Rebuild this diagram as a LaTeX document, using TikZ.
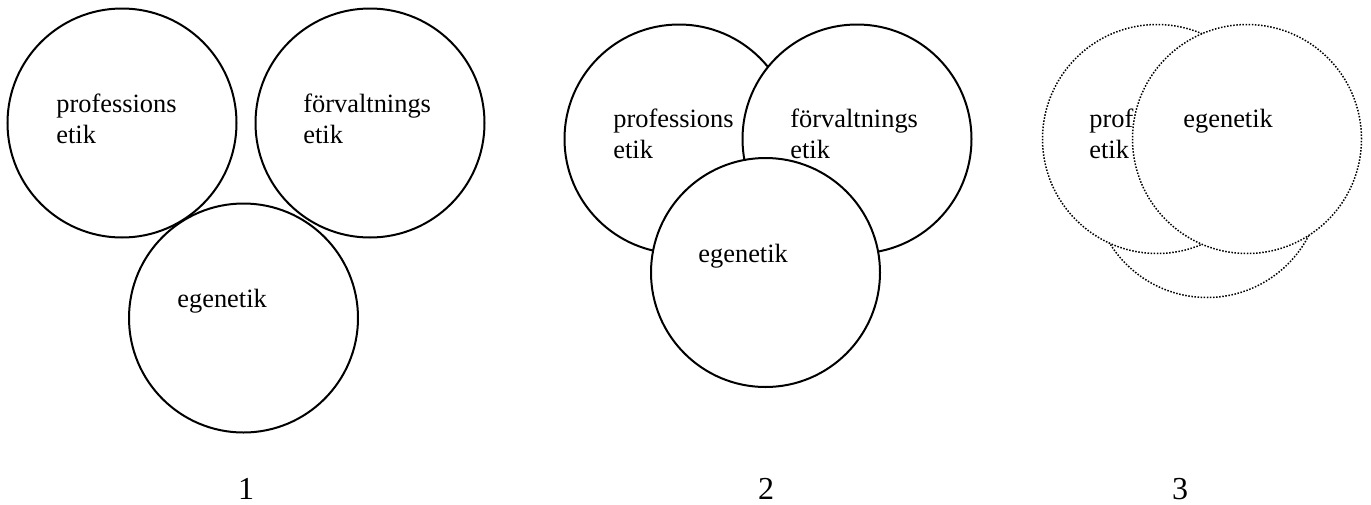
\documentclass[tikz,border=0pt]{standalone}
\usepackage{fontspec}
\setmainfont{Liberation Serif}
\usepackage{tikz}

\tikzset{
  ring/.style={circle, draw, fill=white, line width=1pt, minimum size=114.5pt, inner sep=0pt},
  dotring/.style={ring, line width=0.75pt, dash pattern=on 0.75pt off 0.8pt},
  lbl/.style={anchor=base west, align=left, inner sep=0pt, font=\fontsize{13.2}{15.5}\selectfont},
  num/.style={anchor=base, inner sep=0pt, font=\fontsize{16}{18}\selectfont}
}

\begin{document}
\begin{tikzpicture}[x=0.5pt, y=-0.5pt]
    \useasboundingbox (0,0) rectangle (1371,504);

    % 1: apart
    \node[ring] (p1) at (122,123) {};
    \node[lbl] (tp1) at (56,143) {professions\\etik};
    \node[ring] (f1) at (370,123) {};
    \node[lbl] (tf1) at (303,143) {förvaltnings\\etik};
    \node[ring] (e1) at (243.5,318) {};
    \node[lbl] (te1) at (177,307) {egenetik};

    % 2: overlapping
    \node[ring] (p2) at (679,139) {};
    \node[lbl] (tp2) at (613,158) {professions\\etik};
    \node[ring] (f2) at (857,139) {};
    \node[lbl] (tf2) at (790,158) {förvaltnings\\etik};
    \node[ring] (e2) at (765.5,272.5) {};
    \node[lbl] (te2) at (698,262) {egenetik};

    % 3: dotted, egenetik on top
    \node[dotring] (f3) at (1207,183) {};
    \node[dotring] (p3) at (1157,139) {};
    \node[lbl] (tp3) at (1089,158) {professions\\etik};
    \node[dotring] (e3) at (1247,139) {};
    \node[lbl] (te3) at (1183,127) {egenetik};

    % numbers
    \node[num] (n1) at (246,499) {1};
    \node[num] (n2) at (766,499) {2};
    \node[num] (n3) at (1180,499) {3};
\end{tikzpicture}
\end{document}
